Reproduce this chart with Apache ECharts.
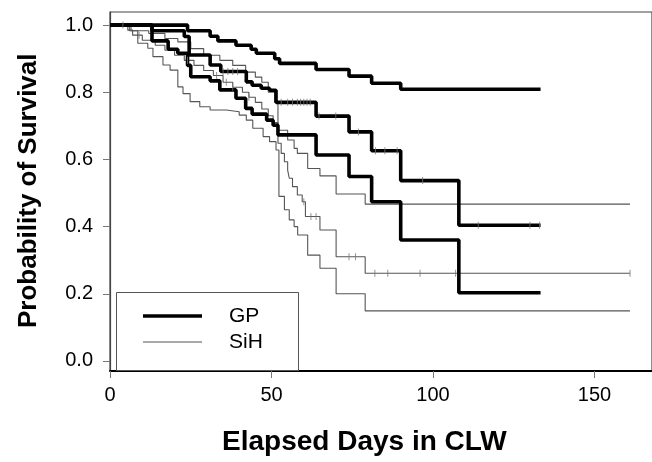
<!DOCTYPE html>
<html><head><meta charset="utf-8">
<script src="https://cdn.jsdelivr.net/npm/echarts@6/dist/echarts.min.js"></script>
<style>html,body{margin:0;padding:0;background:#fff}#c{width:652px;height:462px}</style>
</head><body><div id="c"></div>
<script>
// ---- data ----
const xTicks = [0, 50, 100, 150];
const yTicks = [0, 0.2, 0.4, 0.6, 0.8, 1.0];
const legendNames = ['GP', 'SiH'];
const xTitle = 'Elapsed Days in CLW';
const yTitle = 'Probability of Survival';

// GP (thick): estimate with upper / lower bands  [day, survival]
const gpUpper = [[0,1],[24,0.983],[31,0.967],[33.4,0.953],[39,0.94],[43.7,0.928],[45.3,0.916],[51,0.9],[52.5,0.886],[63.8,0.868],[74,0.848],[81,0.827],[90,0.809],[133.3,0.809]];
const gpMid = [[0,1],[13,0.983],[23,0.966],[24.5,0.911],[31,0.881],[34.3,0.862],[42.2,0.831],[44,0.821],[46.8,0.812],[49.4,0.806],[51.4,0.77],[63.8,0.729],[74,0.682],[81,0.626],[90,0.537],[108,0.404],[133.3,0.404]];
const gpLower = [[0,1],[13,0.953],[18,0.928],[21,0.916],[24,0.88],[25,0.846],[31,0.834],[34,0.807],[39,0.782],[42,0.752],[44,0.735],[48.5,0.717],[50.5,0.702],[52,0.673],[63.8,0.613],[74,0.549],[81,0.474],[90,0.36],[108,0.203],[133.3,0.203]];
const gpCensor = [35,36.5,38,39.5,53,55,56.5,58,59,60,61,62,64.7,69.9,76.9,82.2,85.1,88.9,96.8,114,130,133];

// SiH (thin): estimate with upper / lower bands
const sihUpper = [[0,1],[6,0.983],[12,0.975],[17,0.96],[21,0.95],[25,0.93],[29,0.91],[34,0.895],[38,0.88],[42,0.86],[45,0.845],[47,0.83],[49,0.8],[51,0.77],[52,0.687],[55,0.658],[57,0.633],[58,0.618],[61.2,0.573],[65,0.551],[70,0.497],[79,0.467],[161,0.467]];
const sihMid = [[0,1],[5.5,0.985],[7,0.97],[10,0.955],[14,0.94],[17,0.925],[20,0.91],[23,0.895],[26,0.88],[29,0.865],[32,0.85],[35,0.83],[38,0.815],[41,0.8],[43,0.785],[45,0.77],[47,0.75],[49,0.73],[50.5,0.71],[52,0.648],[53,0.618],[54,0.593],[55,0.568],[55.5,0.544],[56.5,0.519],[58,0.494],[59.5,0.474],[60.5,0.43],[65,0.39],[70,0.31],[79,0.261],[161,0.261]];
const sihLower = [[0,1],[6.5,0.983],[8.6,0.946],[11.7,0.931],[13.3,0.906],[16.4,0.881],[18.6,0.866],[21,0.816],[22.6,0.796],[24.8,0.772],[27.8,0.757],[31,0.747],[36,0.742],[40,0.732],[42.2,0.717],[44.2,0.693],[47.4,0.668],[49.4,0.653],[51.4,0.628],[52.3,0.49],[54,0.45],[55.5,0.42],[57,0.4],[58.1,0.375],[61.2,0.315],[65,0.276],[70,0.2],[79,0.149],[161,0.149]];
const sihCensor = [4,9,24,33,36,38,43,60,62.2,63.8,74,76,82,86,96,107,161];

// ---- chart ----
function valueAt(curve, t){ let v = curve[0][1]; for (const p of curve){ if (p[0] <= t) v = p[1]; } return v; }
const gpCensorPts = gpCensor.map(t => [t, valueAt(gpMid, t)]);
const sihCensorPts = sihCensor.map(t => [t, valueAt(sihMid, t)]);

const thick = {color:'#000', width:3.6};
const thin = {color:'#555', width:1.1};
function stepSeries(data, style){
  return {type:'line', step:'end', data:data, showSymbol:false, symbol:'none', lineStyle:style, itemStyle:{color:style.color}, z:style.width>2?3:2, silent:true};
}
const FONT = 'Liberation Sans, Arial, sans-serif';
const chart = echarts.init(document.getElementById('c'), null, {renderer:'canvas'});
chart.setOption({
  animation:false,
  backgroundColor:'#fff',
  grid:{left:110, top:12, width:545, height:359, show:true, borderColor:'#444', borderWidth:1.2, backgroundColor:'transparent'},
  xAxis:{type:'value', min:0, max:167.8,
    axisLine:{show:true, onZero:false, lineStyle:{color:'#000', width:2}},
    axisTick:{show:true, inside:false, length:7, customValues:xTicks, lineStyle:{color:'#777', width:1}},
    axisLabel:{customValues:xTicks, margin:14, fontSize:20, color:'#000', fontFamily:FONT},
    splitLine:{show:false}},
  yAxis:{type:'value', min:-0.03, max:1.039,
    axisLine:{show:true, onZero:false, lineStyle:{color:'#444', width:1.2}},
    axisTick:{show:true, inside:false, length:7, customValues:yTicks, lineStyle:{color:'#777', width:1}},
    axisLabel:{customValues:yTicks, margin:17, fontSize:20, color:'#000', fontFamily:FONT, formatter:v=>v.toFixed(1)},
    splitLine:{show:false}},
  series:[
    stepSeries(sihUpper, thin), stepSeries(sihMid, thin), stepSeries(sihLower, thin),
    stepSeries(gpUpper, thick), stepSeries(gpMid, thick), stepSeries(gpLower, thick),
    {type:'scatter', data:gpCensorPts.concat(sihCensorPts), symbol:'rect', symbolSize:[1,7], itemStyle:{color:'#777'}, z:5, silent:true}
  ],
  graphic:[
    {type:'text', left:222, top:428, style:{text:xTitle, font:'bold 28px '+FONT, fill:'#000'}},
    {type:'text', rotation:Math.PI/2, x:16, y:328, style:{text:yTitle, font:'bold 26px '+FONT, fill:'#000', textBaseline:'top'}},
    {type:'rect', shape:{x:116.5, y:292.5, width:182, height:78}, style:{fill:'#fff', stroke:'#555', lineWidth:1}, z:10},
    {type:'line', shape:{x1:143, y1:316, x2:202, y2:316}, style:{stroke:'#000', lineWidth:3.6}, z:11},
    {type:'line', shape:{x1:143, y1:342, x2:202, y2:342}, style:{stroke:'#555', lineWidth:1.1}, z:11},
    {type:'text', x:229, y:316, style:{text:legendNames[0], font:'21px '+FONT, fill:'#000', textVerticalAlign:'middle'}, z:11},
    {type:'text', x:229, y:342, style:{text:legendNames[1], font:'21px '+FONT, fill:'#000', textVerticalAlign:'middle'}, z:11}
  ]
});
</script>
</body></html>
